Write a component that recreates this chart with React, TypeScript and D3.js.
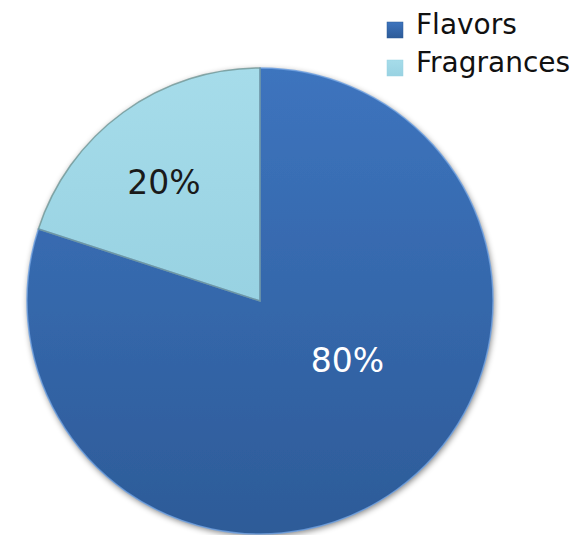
import React from "react";
import * as d3 from "d3";

const categories = ["Flavors", "Fragrances"];
const values = [80, 20];
const colorsTop = ["#3D74BE", "#A6DCEA"];
const colorsBottom = ["#2D5B98", "#98D2E2"];
const labelColors = ["#FFFFFF", "#1A1A1A"];

export default function App() {
  const width = 580;
  const height = 535;
  const cx = 260;
  const cy = 301;
  const r = 233;

  const pie = d3
    .pie<number>()
    .sort(null)
    .startAngle(0)
    .endAngle(2 * Math.PI)
    .value((d) => d);
  const arcs = pie(values);
  const arc = d3.arc<d3.PieArcDatum<number>>().innerRadius(0).outerRadius(r);
  const labelRadius = [0.5, 0.65];
  const labelOffsets = [
    [19, -35],
    [-7, 4],
  ];

  return (
    <svg
      width={width}
      height={height}
      style={{ position: "absolute", left: 0, top: 0, background: "#fff" }}
    >
      <defs>
        {categories.map((c, i) => (
          <linearGradient key={c} id={`g${i}`} x1="0" y1="0" x2="0" y2="1">
            <stop offset="0%" stopColor={colorsTop[i]} />
            <stop offset="100%" stopColor={colorsBottom[i]} />
          </linearGradient>
        ))}
        <filter id="shadow" x="-10%" y="-10%" width="120%" height="120%">
          <feGaussianBlur in="SourceAlpha" stdDeviation="3" />
          <feOffset dx="1" dy="2" result="b" />
          <feComponentTransfer>
            <feFuncA type="linear" slope="0.5" />
          </feComponentTransfer>
          <feMerge>
            <feMergeNode />
            <feMergeNode in="SourceGraphic" />
          </feMerge>
        </filter>
      </defs>
      <g transform={`translate(${cx},${cy})`}>
        <g filter="url(#shadow)">
          {arcs.map((a, i) => (
            <path key={i} d={arc(a) || ""} fill={`url(#g${i})`} />
          ))}
        </g>
        {arcs.map((a, i) => (
          <path
            key={"s" + i}
            d={arc(a) || ""}
            fill="none"
            stroke={i === 0 ? "#6FA0E0" : "#6E9494"}
            strokeWidth={1.5}
            strokeOpacity={0.8}
          />
        ))}
        {arcs.map((a, i) => {
          const la = d3
            .arc<d3.PieArcDatum<number>>()
            .innerRadius(r * labelRadius[i])
            .outerRadius(r * labelRadius[i]);
          const [x, y] = la.centroid(a);
          return (
            <text
              key={"t" + i}
              x={x + labelOffsets[i][0]}
              y={y + labelOffsets[i][1]}
              textAnchor="middle"
              dominantBaseline="central"
              fontFamily="DejaVu Sans, Verdana, sans-serif"
              fontSize={33}
              fill={labelColors[i]}
            >
              {values[i]}%
            </text>
          );
        })}
      </g>
      <g fontFamily="DejaVu Sans, Verdana, sans-serif" fontSize={28}>
        {categories.map((c, i) => (
          <g key={c} transform={`translate(387,${22 + i * 38})`}>
            <rect
              width={16}
              height={16}
              fill={`url(#g${i})`}
              stroke={colorsBottom[i]}
              strokeWidth={0.5}
            />
            <text x={29} y={12} fill="#111">
              {c}
            </text>
          </g>
        ))}
      </g>
    </svg>
  );
}
